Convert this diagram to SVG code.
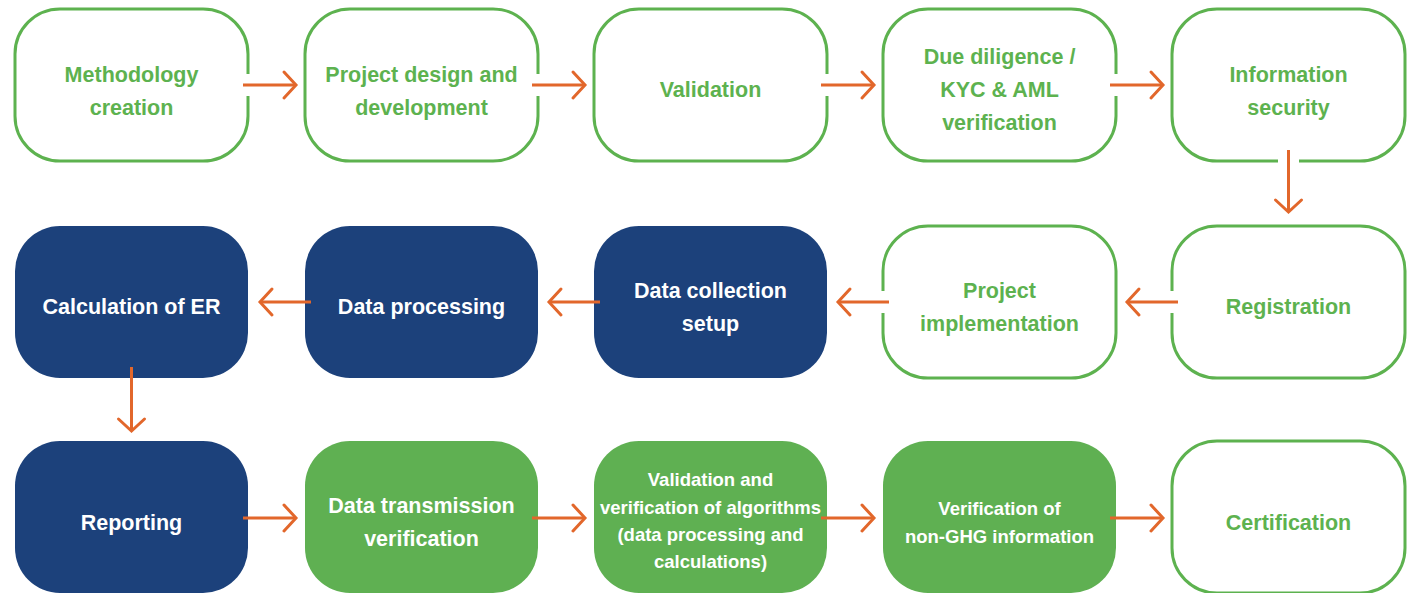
<svg xmlns="http://www.w3.org/2000/svg" width="1409" height="593" viewBox="0 0 1409 593">
<defs>
<marker id="ah" markerUnits="userSpaceOnUse" markerWidth="16" markerHeight="30" viewBox="0 0 16 30" refX="14" refY="15" orient="auto" overflow="visible">
<path d="M2,2 L14,15 L2,28" fill="none" stroke="#E2672B" stroke-width="3" stroke-linecap="round"/>
</marker>
<style>
.out{fill:#fff;stroke:#5DB24F;stroke-width:3}
.navy{fill:#1C417B}
.grn{fill:#5FB052}
text{font-family:"Liberation Sans",Arial,sans-serif;font-weight:bold;font-size:21.5px;text-anchor:middle}
.tg{fill:#5DB24F}
.tw{fill:#fff}
.sm{font-size:18.5px}
.conn line{stroke:#E2672B;stroke-width:3;marker-end:url(#ah)}
.gap{fill:#fff}
</style>
</defs>
<rect width="1409" height="593" fill="#fff"/>

<g id="n1"><rect class="out" x="15" y="9" width="233" height="152" rx="45"/><text class="tg" x="131.5" y="81.5">Methodology</text><text class="tg" x="131.5" y="115">creation</text></g>
<g id="n2"><rect class="out" x="305" y="9" width="233" height="152" rx="45"/><text class="tg" x="421.5" y="81.5">Project design and</text><text class="tg" x="421.5" y="115">development</text></g>
<g id="n3"><rect class="out" x="594" y="9" width="233" height="152" rx="45"/><text class="tg" x="710.5" y="97">Validation</text></g>
<g id="n4"><rect class="out" x="883" y="9" width="233" height="152" rx="45"/><text class="tg" x="999.5" y="64">Due diligence /</text><text class="tg" x="999.5" y="97">KYC &amp; AML</text><text class="tg" x="999.5" y="130">verification</text></g>
<g id="n5"><rect class="out" x="1172" y="9" width="233" height="152" rx="45"/><text class="tg" x="1288.5" y="81.5">Information</text><text class="tg" x="1288.5" y="115">security</text></g>

<g id="n6"><rect class="out" x="1172" y="226" width="233" height="152" rx="45"/><text class="tg" x="1288.5" y="313.5">Registration</text></g>
<g id="n7"><rect class="out" x="883" y="226" width="233" height="152" rx="45"/><text class="tg" x="999.5" y="297.5">Project</text><text class="tg" x="999.5" y="330.5">implementation</text></g>
<g id="n8"><rect class="navy" x="594" y="226" width="233" height="152" rx="45"/><text class="tw" x="710.5" y="297.5">Data collection</text><text class="tw" x="710.5" y="330.5">setup</text></g>
<g id="n9"><rect class="navy" x="305" y="226" width="233" height="152" rx="45"/><text class="tw" x="421.5" y="313.5">Data processing</text></g>
<g id="n10"><rect class="navy" x="15" y="226" width="233" height="152" rx="45"/><text class="tw" x="131.5" y="313.5">Calculation of ER</text></g>

<g id="n11"><rect class="navy" x="15" y="441" width="233" height="152" rx="45"/><text class="tw" x="131.5" y="529.5">Reporting</text></g>
<g id="n12"><rect class="grn" x="305" y="441" width="233" height="152" rx="45"/><text class="tw" x="421.5" y="513">Data transmission</text><text class="tw" x="421.5" y="546">verification</text></g>
<g id="n13"><rect class="grn" x="594" y="441" width="233" height="152" rx="45"/><text class="tw sm" x="710.5" y="486">Validation and</text><text class="tw sm" x="710.5" y="513.5">verification of algorithms</text><text class="tw sm" x="710.5" y="541">(data processing and</text><text class="tw sm" x="710.5" y="568">calculations)</text></g>
<g id="n14"><rect class="grn" x="883" y="441" width="233" height="152" rx="45"/><text class="tw sm" x="999.5" y="515">Verification of</text><text class="tw sm" x="999.5" y="543">non-GHG information</text></g>
<g id="n15"><rect class="out" x="1172" y="441" width="233" height="152" rx="45"/><text class="tg" x="1288.5" y="529.5">Certification</text></g>

<g id="connectors" class="conn">
<rect class="gap" x="245" y="74" width="6" height="22"/>
<rect class="gap" x="535" y="74" width="6" height="22"/>
<rect class="gap" x="824" y="74" width="6" height="22"/>
<rect class="gap" x="1113" y="74" width="6" height="22"/>
<rect class="gap" x="1278" y="158" width="21" height="6"/>
<rect class="gap" x="1169" y="291" width="6" height="22"/>
<rect class="gap" x="880" y="291" width="6" height="22"/>
<line x1="243" y1="85" x2="296" y2="85"/>
<line x1="532" y1="85" x2="585" y2="85"/>
<line x1="821" y1="85" x2="874" y2="85"/>
<line x1="1110" y1="85" x2="1163" y2="85"/>
<line x1="1288.5" y1="150" x2="1288.5" y2="212"/>
<line x1="1178" y1="302" x2="1127" y2="302"/>
<line x1="889" y1="302" x2="838" y2="302"/>
<line x1="600" y1="302" x2="549" y2="302"/>
<line x1="311" y1="302" x2="260" y2="302"/>
<line x1="131.5" y1="367" x2="131.5" y2="431"/>
<line x1="243" y1="518" x2="296" y2="518"/>
<line x1="532" y1="518" x2="585" y2="518"/>
<line x1="821" y1="518" x2="874" y2="518"/>
<line x1="1110" y1="518" x2="1163" y2="518"/>
</g>
</svg>
